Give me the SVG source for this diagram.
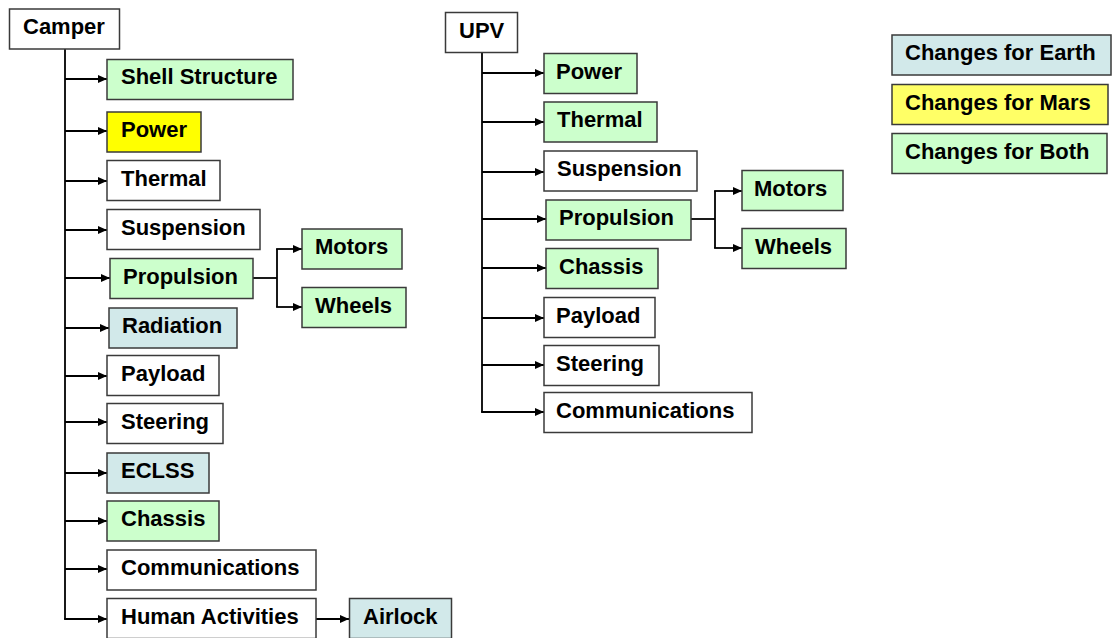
<svg xmlns="http://www.w3.org/2000/svg" width="1112" height="638" viewBox="0 0 1112 638">
  <style>
    .box { stroke: #3a3a3a; stroke-width: 1.5; }
    .white { fill: #ffffff; }
    .green { fill: #ccffcc; }
    .yellow { fill: #ffff00; }
    .lyellow { fill: #ffff66; }
    .blue { fill: #d2e9ea; }
    .lbl { font-family: "Liberation Sans", Arial, sans-serif; font-weight: bold; font-size: 22px; fill: #000; }
    .wire { fill: none; stroke: #000; stroke-width: 1.8; }
  </style>
  <defs>
    <marker id="arrow" markerUnits="userSpaceOnUse" markerWidth="9" markerHeight="8" refX="9" refY="4" orient="auto">
      <path d="M0,0 L9,4 L0,8 z" fill="#000"/>
    </marker>
  </defs>

  <rect width="1112" height="638" fill="#ffffff"/>

  <!-- connectors -->
  <g id="connectors">
    <!-- Camper tree -->
    <path class="wire" d="M65,49 V619"/>
    <path class="wire" d="M65,79 H107" marker-end="url(#arrow)"/>
    <path class="wire" d="M65,131 H107" marker-end="url(#arrow)"/>
    <path class="wire" d="M65,181 H107" marker-end="url(#arrow)"/>
    <path class="wire" d="M65,230 H107" marker-end="url(#arrow)"/>
    <path class="wire" d="M65,278 H110" marker-end="url(#arrow)"/>
    <path class="wire" d="M65,328 H109" marker-end="url(#arrow)"/>
    <path class="wire" d="M65,376 H107" marker-end="url(#arrow)"/>
    <path class="wire" d="M65,422 H107" marker-end="url(#arrow)"/>
    <path class="wire" d="M65,473 H107" marker-end="url(#arrow)"/>
    <path class="wire" d="M65,521 H107" marker-end="url(#arrow)"/>
    <path class="wire" d="M65,569 H107" marker-end="url(#arrow)"/>
    <path class="wire" d="M64.1,619 H107" marker-end="url(#arrow)"/>
    <path class="wire" d="M253,278 H277"/>
    <path class="wire" d="M277,249 V307"/>
    <path class="wire" d="M276.1,249 H302" marker-end="url(#arrow)"/>
    <path class="wire" d="M276.1,307 H302" marker-end="url(#arrow)"/>
    <path class="wire" d="M316,619 H349" marker-end="url(#arrow)"/>

    <!-- UPV tree -->
    <path class="wire" d="M482,52 V412"/>
    <path class="wire" d="M482,73 H544" marker-end="url(#arrow)"/>
    <path class="wire" d="M482,122 H544" marker-end="url(#arrow)"/>
    <path class="wire" d="M482,172 H544" marker-end="url(#arrow)"/>
    <path class="wire" d="M482,219 H546" marker-end="url(#arrow)"/>
    <path class="wire" d="M482,268 H546" marker-end="url(#arrow)"/>
    <path class="wire" d="M482,318 H544" marker-end="url(#arrow)"/>
    <path class="wire" d="M482,365 H544" marker-end="url(#arrow)"/>
    <path class="wire" d="M481.1,412 H544" marker-end="url(#arrow)"/>
    <path class="wire" d="M691,219 H715"/>
    <path class="wire" d="M715,191 V248"/>
    <path class="wire" d="M714.1,191 H742" marker-end="url(#arrow)"/>
    <path class="wire" d="M714.1,248 H742" marker-end="url(#arrow)"/>
  </g>

  <!-- Camper nodes -->
  <g id="camper">
    <rect class="box white" x="9.5" y="9" width="110" height="40"/>
    <text class="lbl" x="23" y="34">Camper</text>
  </g>
  <g id="camper-shell">
    <rect class="box green" x="107" y="59.5" width="186" height="40"/>
    <text class="lbl" x="121" y="84">Shell Structure</text>
  </g>
  <g id="camper-power">
    <rect class="box yellow" x="107" y="112" width="94" height="40"/>
    <text class="lbl" x="121" y="137">Power</text>
  </g>
  <g id="camper-thermal">
    <rect class="box white" x="107" y="160.5" width="113" height="40"/>
    <text class="lbl" x="121" y="185.5">Thermal</text>
  </g>
  <g id="camper-suspension">
    <rect class="box white" x="107" y="209.5" width="153" height="40"/>
    <text class="lbl" x="121" y="234.5">Suspension</text>
  </g>
  <g id="camper-propulsion">
    <rect class="box green" x="110" y="258.5" width="143" height="40"/>
    <text class="lbl" x="123" y="283.5">Propulsion</text>
  </g>
  <g id="camper-motors">
    <rect class="box green" x="302" y="229" width="100" height="40"/>
    <text class="lbl" x="315" y="254">Motors</text>
  </g>
  <g id="camper-wheels">
    <rect class="box green" x="302" y="287.5" width="104" height="40"/>
    <text class="lbl" x="315" y="312.5">Wheels</text>
  </g>
  <g id="camper-radiation">
    <rect class="box blue" x="109" y="308" width="128" height="40"/>
    <text class="lbl" x="122" y="333">Radiation</text>
  </g>
  <g id="camper-payload">
    <rect class="box white" x="107" y="355.5" width="112" height="40"/>
    <text class="lbl" x="121" y="380.5">Payload</text>
  </g>
  <g id="camper-steering">
    <rect class="box white" x="107" y="403.5" width="116" height="40"/>
    <text class="lbl" x="121" y="428.5">Steering</text>
  </g>
  <g id="camper-eclss">
    <rect class="box blue" x="107" y="453" width="102" height="40"/>
    <text class="lbl" x="121" y="478">ECLSS</text>
  </g>
  <g id="camper-chassis">
    <rect class="box green" x="107" y="501" width="112" height="40"/>
    <text class="lbl" x="121" y="526">Chassis</text>
  </g>
  <g id="camper-communications">
    <rect class="box white" x="107" y="550" width="209" height="40"/>
    <text class="lbl" x="121" y="575">Communications</text>
  </g>
  <g id="camper-human">
    <rect class="box white" x="107" y="598.5" width="209" height="40"/>
    <text class="lbl" x="121" y="623.5">Human Activities</text>
  </g>
  <g id="camper-airlock">
    <rect class="box blue" x="349.5" y="598.5" width="102" height="40"/>
    <text class="lbl" x="363" y="623.5">Airlock</text>
  </g>

  <!-- UPV nodes -->
  <g id="upv">
    <rect class="box white" x="445.5" y="12.5" width="72" height="40"/>
    <text class="lbl" x="459" y="37.5">UPV</text>
  </g>
  <g id="upv-power">
    <rect class="box green" x="544" y="53.5" width="93" height="40"/>
    <text class="lbl" x="556" y="78.5">Power</text>
  </g>
  <g id="upv-thermal">
    <rect class="box green" x="544" y="102" width="113" height="40"/>
    <text class="lbl" x="557" y="127">Thermal</text>
  </g>
  <g id="upv-suspension">
    <rect class="box white" x="544" y="151" width="153" height="40"/>
    <text class="lbl" x="557" y="176">Suspension</text>
  </g>
  <g id="upv-propulsion">
    <rect class="box green" x="546" y="200" width="145" height="40"/>
    <text class="lbl" x="559" y="225">Propulsion</text>
  </g>
  <g id="upv-motors">
    <rect class="box green" x="742" y="170.5" width="101" height="40"/>
    <text class="lbl" x="754" y="195.5">Motors</text>
  </g>
  <g id="upv-wheels">
    <rect class="box green" x="742" y="228.5" width="104" height="40"/>
    <text class="lbl" x="755" y="253.5">Wheels</text>
  </g>
  <g id="upv-chassis">
    <rect class="box green" x="546" y="248.5" width="112" height="40"/>
    <text class="lbl" x="559" y="273.5">Chassis</text>
  </g>
  <g id="upv-payload">
    <rect class="box white" x="544" y="297.5" width="111" height="40"/>
    <text class="lbl" x="556" y="322.5">Payload</text>
  </g>
  <g id="upv-steering">
    <rect class="box white" x="544" y="345.5" width="115" height="40"/>
    <text class="lbl" x="556" y="370.5">Steering</text>
  </g>
  <g id="upv-communications">
    <rect class="box white" x="544" y="392.5" width="208" height="40"/>
    <text class="lbl" x="556" y="417.5">Communications</text>
  </g>

  <!-- key -->
  <g id="key-earth">
    <rect class="box blue" x="892" y="35" width="219" height="40"/>
    <text class="lbl" x="905" y="60">Changes for Earth</text>
  </g>
  <g id="key-mars">
    <rect class="box lyellow" x="892" y="84.5" width="216" height="40"/>
    <text class="lbl" x="905" y="109.5">Changes for Mars</text>
  </g>
  <g id="key-both">
    <rect class="box green" x="892" y="133.5" width="215" height="40"/>
    <text class="lbl" x="905" y="158.5">Changes for Both</text>
  </g>
</svg>
